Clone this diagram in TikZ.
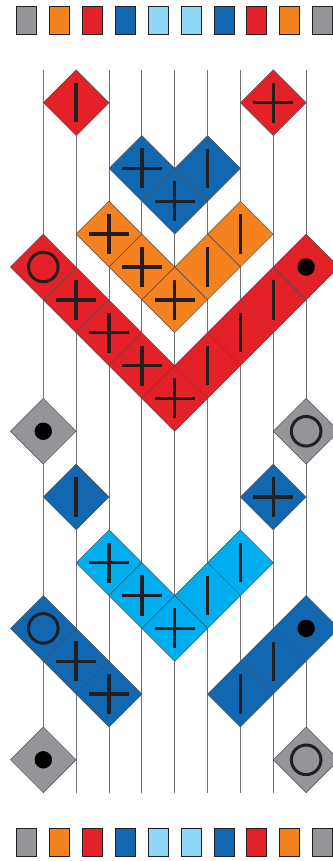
\documentclass[tikz,border=0pt]{standalone}
\usepackage{xcolor}
\usepackage{tikz}
\usetikzlibrary{positioning, shapes.geometric}
\definecolor{cardGrey}{HTML}{939598}
\definecolor{cardOrange}{HTML}{F58220}
\definecolor{cardRed}{HTML}{E42128}
\definecolor{cardBlue}{HTML}{1268B0}
\definecolor{cardSky}{HTML}{8FD8F7}
\definecolor{cardCyan}{HTML}{00AEEF}
\definecolor{markInk}{HTML}{231F20}

\begin{document}
\begin{tikzpicture}[
  thread/.style={draw=black!55, line width=0.8pt},
  swatch/.style={draw=markInk, line width=0.7pt, minimum width=0.61cm, minimum height=0.85cm, inner sep=0pt},
  cell/.style={diamond, draw=markInk!80, line width=0.4pt, aspect=1, minimum width=2cm, minimum height=2cm, inner sep=0pt, outer sep=0pt},
  ink/.style={draw=markInk, line width=2.9pt},
  barmark/.style={cell, path picture={\draw[ink] ([yshift=0.6cm]path picture bounding box.center) -- ([yshift=-0.6cm]path picture bounding box.center);}},
  crossmark/.style={cell, path picture={\draw[ink] ([yshift=0.61cm]path picture bounding box.center) -- ([yshift=-0.61cm]path picture bounding box.center)
      ([xshift=-0.61cm]path picture bounding box.center) -- ([xshift=0.61cm]path picture bounding box.center);}},
  ringmark/.style={cell, path picture={\draw[markInk, line width=2.6pt] (path picture bounding box.center) circle (0.45cm);}},
  dotmark/.style={cell, path picture={\fill[black] (path picture bounding box.center) circle (0.265cm);}}
]
\useasboundingbox (-1.318,3.126) rectangle (8.789,-23.08);

% colour cards, top and bottom
\foreach \c [count=\k from 0] in {cardGrey, cardOrange, cardRed, cardBlue, cardSky, cardSky, cardBlue, cardRed, cardOrange, cardGrey} {
  \node[swatch, fill=\c] (top-\k) at (\k-0.5, 2.51) {};
  \node[swatch, fill=\c] (bot-\k) at (\k-0.5, -22.52) {};
}

% threads
\foreach \i in {0,...,8} {
  \coordinate (thread-top-\i) at (\i, 1);
  \coordinate (thread-bot-\i) at (\i, -21);
  \draw[thread] (thread-top-\i) -- (thread-bot-\i);
}

% cells: column/row/colour
\foreach \i/\j/\c in {1/0/cardRed, 5/2/cardBlue, 6/4/cardOrange, 5/5/cardOrange,
    7/6/cardRed, 6/7/cardRed, 5/8/cardRed, 1/12/cardBlue, 6/14/cardCyan,
    5/15/cardCyan, 7/17/cardBlue, 6/18/cardBlue}
  \node[barmark, fill=\c] (cell-\i-\j) at (\i,-\j) {};
\foreach \i/\j/\c in {7/0/cardRed, 3/2/cardBlue, 4/3/cardBlue, 2/4/cardOrange,
    3/5/cardOrange, 4/6/cardOrange, 1/6/cardRed, 2/7/cardRed, 3/8/cardRed,
    4/9/cardRed, 7/12/cardBlue, 2/14/cardCyan, 3/15/cardCyan, 4/16/cardCyan,
    1/17/cardBlue, 2/18/cardBlue}
  \node[crossmark, fill=\c] (cell-\i-\j) at (\i,-\j) {};
\foreach \i/\j/\c in {0/5/cardRed, 8/10/cardGrey, 0/16/cardBlue, 8/20/cardGrey}
  \node[ringmark, fill=\c] (cell-\i-\j) at (\i,-\j) {};
\foreach \i/\j/\c in {8/5/cardRed, 0/10/cardGrey, 8/16/cardBlue, 0/20/cardGrey}
  \node[dotmark, fill=\c] (cell-\i-\j) at (\i,-\j) {};
\end{tikzpicture}
\end{document}
